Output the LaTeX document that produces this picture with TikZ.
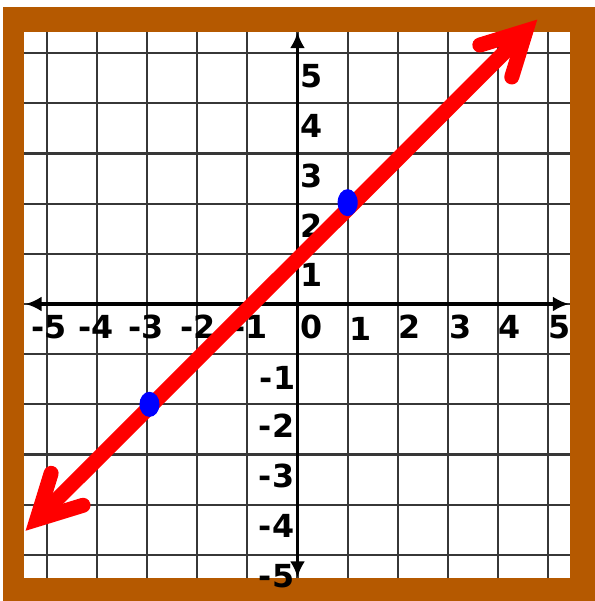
\documentclass[tikz,border=0pt]{standalone}
\usepackage{fontspec}
\setmainfont{DejaVu Sans}
\usetikzlibrary{arrows.meta}
\definecolor{frameorange}{RGB}{181,89,0}
\definecolor{gridgray}{RGB}{55,55,55}

\begin{document}
\begin{tikzpicture}[lbl/.style={font=\fontsize{18}{20}\selectfont\bfseries, inner sep=0pt}]
    \useasboundingbox (-5.93,-5.92) rectangle (5.93,6.06);
    % frame and paper
    \fill[frameorange] (-5.87,-5.92) rectangle (5.93,5.93);
    \fill[white] (-5.45,-5.46) rectangle (5.44,5.42);
    \draw[gridgray,line width=1.2pt] (-5.45,-5.46) grid (5.44,5.42);
    % axes
    \draw[{Latex[length=0.32cm,width=0.3cm]}-{Latex[length=0.32cm,width=0.3cm]},line width=2.2pt] (-5.42,0) -- (5.41,0);
    \draw[{Latex[length=0.32cm,width=0.3cm]}-{Latex[length=0.32cm,width=0.3cm]},line width=2.2pt] (0,-5.45) -- (0,5.42);
    % x labels
    \node[lbl] (xm5) at (-4.95,-0.46) {-5};
    \node[lbl] (xm4) at (-4.02,-0.46) {-4};
    \node[lbl] (xm3) at (-3.02,-0.46) {-3};
    \node[lbl] (xm2) at (-1.98,-0.46) {-2};
    \node[lbl] (xm1) at (-0.95,-0.46) {-1};
    \node[lbl] (x0) at (0.29,-0.46) {0};
    \node[lbl] (xp1) at (1.25,-0.50) {1};
    \node[lbl] (xp2) at (2.24,-0.46) {2};
    \node[lbl] (xp3) at (3.25,-0.46) {3};
    \node[lbl] (xp4) at (4.22,-0.46) {4};
    \node[lbl] (xp5) at (5.23,-0.46) {5};
    % y labels
    \node[lbl,anchor=west] (yp1) at (0.06,0.58) {1};
    \node[lbl,anchor=west] (yp2) at (0.06,1.56) {2};
    \node[lbl,anchor=west] (yp3) at (0.06,2.55) {3};
    \node[lbl,anchor=west] (yp4) at (0.06,3.55) {4};
    \node[lbl,anchor=west] (yp5) at (0.06,4.55) {5};
    \node[lbl,anchor=east] (ym1) at (-0.04,-1.47) {-1};
    \node[lbl,anchor=east] (ym2) at (-0.06,-2.42) {-2};
    \node[lbl,anchor=east] (ym3) at (-0.06,-3.42) {-3};
    \node[lbl,anchor=east] (ym4) at (-0.06,-4.42) {-4};
    \node[lbl,anchor=east] (ym5) at (-0.06,-5.42) {-5};
    % the line and its two points
    \draw[red,line width=8.5pt,{Straight Barb[length=0.85cm,width=0.9cm,line cap=round,line join=miter]}-{Straight Barb[length=0.85cm,width=0.9cm,line cap=round,line join=miter]}] (-5.42,-4.52) -- (4.78,5.67);
    \fill[blue] (-2.95,-2.0) ellipse (0.2 and 0.25);
    \fill[blue] (1.0,2.02) ellipse (0.2 and 0.27);
\end{tikzpicture}
\end{document}
